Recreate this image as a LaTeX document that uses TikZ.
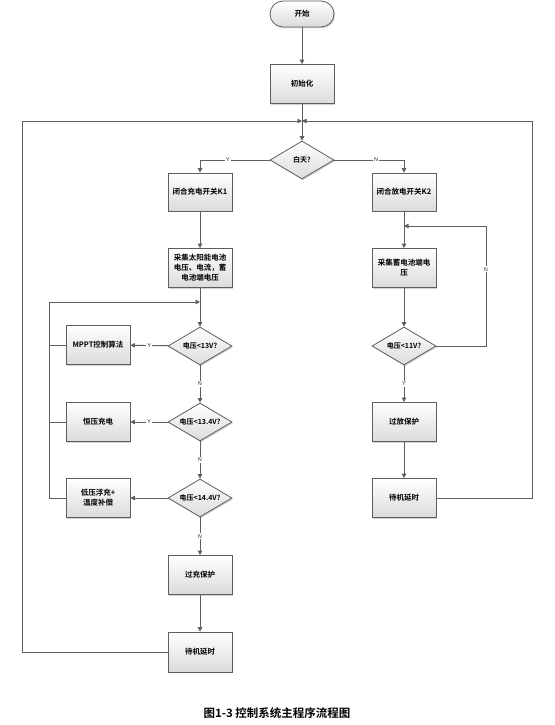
\documentclass[tikz,border=0pt]{standalone}
\usepackage{fontspec}
\setmainfont{Noto Sans CJK SC}[BoldFont={Noto Sans CJK SC Bold}]
\usetikzlibrary{shapes.geometric,arrows.meta,shadows}
\definecolor{ln}{HTML}{5E5E5E}
\tikzset{
  base/.style={draw=ln, line width=0.8pt, top color=white, bottom color=black!14,
    drop shadow={shadow xshift=1.2pt, shadow yshift=-1.2pt, opacity=0.35, fill=black!50},
    font=\bfseries\fontsize{7.5}{10}\selectfont, align=center, inner sep=1pt},
  procbox/.style={base, rectangle, minimum width=64pt, minimum height=39pt},
  termbox/.style={base, rectangle, rounded corners=13pt, minimum width=64pt, minimum height=26pt},
  decbox/.style={base, diamond, minimum width=64pt, minimum height=38pt, shape aspect=1.7, inner sep=0pt, font=\bfseries\fontsize{7}{9}\selectfont},
  conn/.style={draw=ln, line width=0.9pt},
  arr/.style={conn, -{Triangle[width=4.5pt,length=4.5pt]}},
  lab/.style={fill=white, inner sep=1pt, font=\sffamily\fontsize{5.5}{6}\selectfont, text=black!80}
}
\begin{document}
\begin{tikzpicture}[x=1pt,y=-1pt]
\useasboundingbox (0,0) rectangle (554,725);
\fill[white] (0,0) rectangle (554,725);
% nodes
\node[termbox] (start) at (302,14) {开始};
\node[procbox] (init) at (302,84) {初始化};
\coordinate (J1) at (302,121);
\node[decbox] (day) at (302,160) {白天?};
\node[procbox, minimum height=38pt] (k1) at (200,192) {闭合充电开关K1};
\node[procbox, minimum height=38pt] (k2) at (404,192) {闭合放电开关K2};
\node[procbox] (colL) at (200,268) {采集太阳能电池\\电压、电流，蓄\\电池端电压};
\coordinate (J2) at (200,302);
\node[decbox] (d13) at (200,346) {电压<13V?};
\node[procbox] (mppt) at (98,345) {MPPT控制算法};
\node[decbox] (d134) at (200,422) {电压<13.4V?};
\node[procbox] (cv) at (98,422) {恒压充电};
\node[decbox] (d144) at (200,498) {电压<14.4V?};
\node[procbox] (fl) at (98,498) {低压浮充+\\温度补偿};
\node[procbox] (ovc) at (200,575) {过充保护};
\node[procbox, minimum height=40pt] (waitL) at (200,652) {待机延时};
\coordinate (J3) at (404,226);
\node[procbox] (colR) at (404,268) {采集蓄电池端电\\压};
\node[decbox] (d11) at (404,346) {电压<11V?};
\node[procbox] (ovd) at (404,422) {过放保护};
\node[procbox] (waitR) at (404,498) {待机延时};
\coordinate (OL) at (22,121);
\coordinate (OR) at (532,121);
\coordinate (IL) at (49,302);
\coordinate (NR) at (486,226);
\node[font=\bfseries\fontsize{11.5}{13}\selectfont] (cap) at (277,713) {图1-3 控制系统主程序流程图};
% connectors
\draw[arr] (start) -- (init);
\draw[arr] (init) -- (day);
\draw[arr] (day.west) -| node[lab, pos=0.3] {Y} (k1.north);
\draw[arr] (day.east) -| node[lab, pos=0.3] {N} (k2.north);
\draw[arr] (k1) -- (colL);
\draw[arr] (colL) -- (d13);
\draw[arr] (d13) -- node[lab] {Y} (mppt);
\draw[arr] (d13) -- node[lab] {N} (d134);
\draw[arr] (d134) -- node[lab] {Y} (cv);
\draw[arr] (d134) -- node[lab] {N} (d144);
\draw[arr] (d144) -- (fl);
\draw[arr] (d144) -- node[lab] {N} (ovc);
\draw[arr] (ovc) -- (waitL);
\draw[conn] (mppt.west) -- (mppt.west -| IL);
\draw[conn] (cv.west) -- (cv.west -| IL);
\draw[arr] (fl.west) -| (IL) -- (J2);
\draw[arr] (waitL.west) -| (OL) -- (J1);
\draw[arr] (k2) -- (colR);
\draw[arr] (colR) -- (d11);
\draw[arr] (d11.east) -| node[lab, pos=0.82] {N} (NR) -- (J3);
\draw[arr] (d11) -- node[lab] {Y} (ovd);
\draw[arr] (ovd) -- (waitR);
\draw[arr] (waitR.east) -| (OR) -- (J1);
\end{tikzpicture}
\end{document}
